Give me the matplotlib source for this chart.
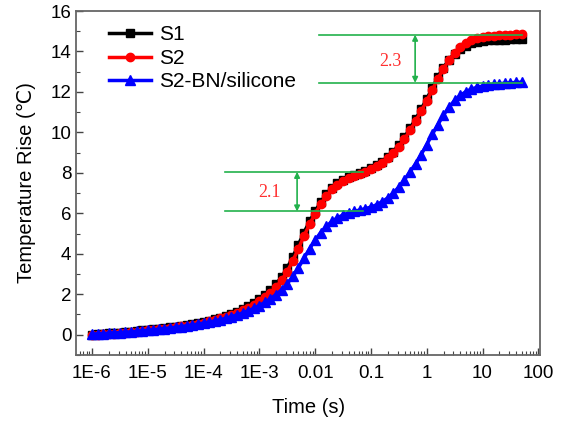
import numpy as np
import matplotlib
matplotlib.use('Agg')
import matplotlib.pyplot as plt
from matplotlib.ticker import FixedLocator, MultipleLocator, LogLocator, NullFormatter

plt.rcParams['font.family'] = ['Liberation Sans', 'DejaVu Sans']

# Sampling times (s), log spaced 0.1 decade from 1E-6 to ~50 s
log_time = np.round(np.arange(-6.0, 1.75, 0.1), 1)
time = 10 ** log_time

# Temperature rise (C)
s1 = [0.00, 0.02, 0.04, 0.06, 0.08, 0.10, 0.12, 0.15, 0.18, 0.21,
      0.24, 0.27, 0.30, 0.33, 0.36, 0.40, 0.44, 0.48, 0.53, 0.58,
      0.63, 0.69, 0.76, 0.84, 0.93, 1.03, 1.14, 1.26, 1.40, 1.56,
      1.74, 1.95, 2.20, 2.50, 2.85, 3.30, 3.85, 4.45, 5.05, 5.60,
      6.10, 6.55, 6.95, 7.25, 7.48, 7.65, 7.78, 7.88, 7.98, 8.10,
      8.22, 8.38, 8.56, 8.78, 9.05, 9.38, 9.75, 10.20, 10.65, 11.15,
      11.65, 12.20, 12.75, 13.20, 13.60, 13.90, 14.12, 14.28, 14.40, 14.47,
      14.52, 14.55, 14.57, 14.58, 14.59, 14.60, 14.60, 14.60]
s2 = [-0.03, -0.01, 0.01, 0.03, 0.05, 0.07, 0.09, 0.12, 0.15, 0.18,
      0.21, 0.24, 0.27, 0.30, 0.33, 0.37, 0.41, 0.45, 0.50, 0.55,
      0.60, 0.66, 0.72, 0.80, 0.88, 0.97, 1.08, 1.20, 1.33, 1.48,
      1.65, 1.85, 2.08, 2.36, 2.70, 3.12, 3.65, 4.25, 4.88, 5.45,
      5.98, 6.45, 6.85, 7.18, 7.42, 7.60, 7.74, 7.85, 7.95, 8.06,
      8.18, 8.33, 8.50, 8.72, 8.98, 9.30, 9.66, 10.10, 10.55, 11.05,
      11.55, 12.10, 12.65, 13.15, 13.58, 13.92, 14.20, 14.40, 14.55, 14.65,
      14.72, 14.76, 14.79, 14.81, 14.83, 14.84, 14.85, 14.86]
s2_bn = [0.03, 0.04, 0.05, 0.07, 0.08, 0.10, 0.12, 0.14, 0.16, 0.19,
         0.21, 0.24, 0.27, 0.30, 0.33, 0.36, 0.40, 0.44, 0.48, 0.52,
         0.57, 0.62, 0.68, 0.74, 0.81, 0.89, 0.98, 1.07, 1.18, 1.30,
         1.44, 1.60, 1.78, 1.98, 2.22, 2.52, 2.88, 3.30, 3.78, 4.25,
         4.68, 5.05, 5.35, 5.60, 5.78, 5.92, 6.02, 6.10, 6.16, 6.23,
         6.31, 6.42, 6.57, 6.76, 7.00, 7.30, 7.66, 8.05, 8.45, 8.90,
         9.40, 9.90, 10.38, 10.85, 11.25, 11.58, 11.83, 12.01, 12.14, 12.23,
         12.29, 12.34, 12.38, 12.41, 12.43, 12.45, 12.47, 12.48]

# Difference annotations: (x start, x end, x arrow, lower, upper, label, label x, label y)
gap_low = [2.43e-4, 0.0726, 0.00475, 6.09, 8.05, '2.1', 0.0015, 7.05]
gap_high = [0.0118, 51.6, 0.62, 12.45, 14.83, '2.3', 0.22, 13.5]

xticks = [1e-6, 1e-5, 1e-4, 1e-3, 1e-2, 1e-1, 1, 10, 100]
xticklabels = ['1E-6', '1E-5', '1E-4', '1E-3', '0.01', '0.1', '1', '10', '100']
green = '#22b14c'

fig = plt.figure(figsize=(5.68, 4.25), dpi=100)
ax = fig.add_axes([0.134, 0.165, 0.817, 0.809])

ax.plot(time, s1, color='black', marker='s', markersize=5.5, linewidth=2.5, label='S1')
ax.plot(time, s2, color='red', marker='o', markersize=6, linewidth=2.5, label='S2')
ax.plot(time, s2_bn, color='blue', marker='^', markersize=6.5, linewidth=2.5, label='S2-BN/silicone')

for x0, x1, xa, lo, hi, txt, tx, ty in [gap_low, gap_high]:
    ax.plot([x0, x1], [lo, lo], color=green, linewidth=1.2)
    ax.plot([x0, x1], [hi, hi], color=green, linewidth=1.2)
    ax.annotate('', xy=(xa, hi), xytext=(xa, lo),
                arrowprops=dict(arrowstyle='<|-|>', color=green, lw=1.2,
                                mutation_scale=8, shrinkA=0, shrinkB=0))
    ax.text(tx, ty, txt, color='#ff3030', fontsize=13, ha='center', va='center',
            family='Liberation Serif')

ax.set_xscale('log')
ax.set_xlim(5.2e-7, 108)
ax.set_ylim(-1, 16)
ax.xaxis.set_major_locator(FixedLocator(xticks))
ax.set_xticklabels(xticklabels)
ax.xaxis.set_minor_locator(LogLocator(base=10, subs=np.arange(2, 10), numticks=20))
ax.xaxis.set_minor_formatter(NullFormatter())
ax.yaxis.set_major_locator(MultipleLocator(2))
ax.yaxis.set_minor_locator(MultipleLocator(1))
ax.tick_params(which='both', direction='in', labelsize=13.5, color='#444444')
ax.tick_params(which='major', length=5, width=1)
ax.tick_params(axis='x', which='major', pad=7)
ax.tick_params(which='minor', length=3, width=0.8)
for sp in ax.spines.values():
    sp.set_color('#666666')
    sp.set_linewidth(1.3)

ax.set_xlabel('Time (s)', fontsize=14.5, labelpad=12)
ax.set_ylabel('Temperature Rise (℃)', fontsize=14.5, labelpad=10)

ax.legend(loc='upper left', frameon=False, fontsize=15, numpoints=1,
          handlelength=2.0, handletextpad=0.4, labelspacing=0.22, borderaxespad=0.2,
          bbox_to_anchor=(0.045, 0.995))

fig.savefig('out.png', dpi=100)
